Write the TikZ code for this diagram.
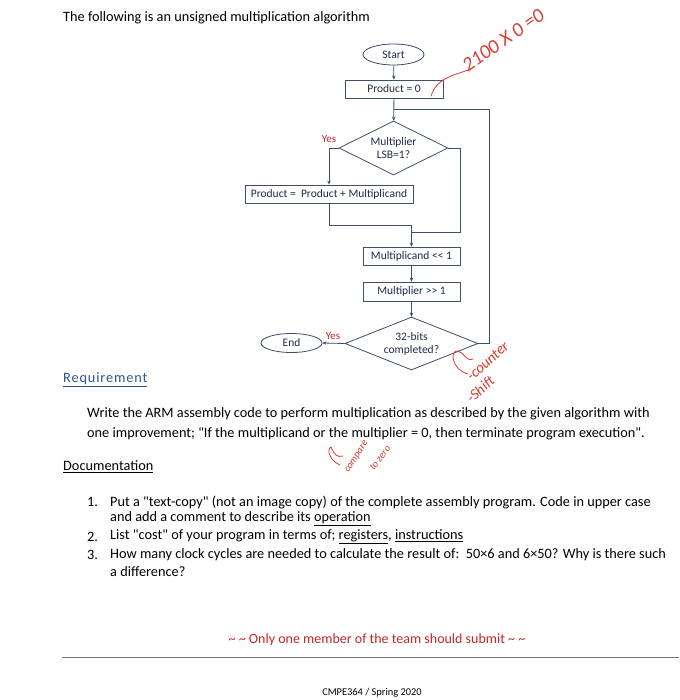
\documentclass[tikz,border=0pt]{standalone}
\usepackage{fontspec}
\setmainfont{Carlito}[Ligatures=TeXOff]
\usetikzlibrary{shapes.geometric,arrows.meta}
\definecolor{flow}{RGB}{62,78,108}
\definecolor{navy}{RGB}{32,42,72}
\definecolor{yesred}{RGB}{192,40,40}
\definecolor{hand}{RGB}{215,60,50}
\definecolor{reqblue}{RGB}{47,84,150}
\definecolor{rulegray}{RGB}{120,120,120}
\tikzset{
  flowtxt/.style={font=\fontsize{11.5}{13}\selectfont, text=navy},
  box/.style={draw=flow, line width=0.8pt, rectangle, inner sep=1pt, flowtxt},
  term/.style={draw=flow, line width=0.8pt, ellipse, inner sep=0pt, flowtxt},
  decision/.style={draw=flow, line width=0.8pt, diamond, inner sep=0pt, align=center, flowtxt},
  conn/.style={draw=flow, line width=0.8pt},
  arr/.style={conn, -{Stealth[length=4pt,width=3.5pt]}},
  yes/.style={text=yesred, font=\fontsize{11}{12}\selectfont, inner sep=0pt},
  body/.style={anchor=west, inner sep=0pt, font=\fontsize{14.3}{17}\selectfont},
  handtxt/.style={text=hand, inner sep=0pt},
  handline/.style={draw=hand, line width=0.8pt, line cap=round}
}
\begin{document}
\begin{tikzpicture}[x=1pt,y=-1pt]
\useasboundingbox[fill=white] (0,0) rectangle (679,700);

% title
\node[body] (title) at (63,18) {The following is an unsigned multiplication algorithm};

% flowchart
\node[term, minimum width=61pt, minimum height=21pt] (start) at (393.5,54.5) {Start};
\node[box, minimum width=98pt, minimum height=18pt] (p0) at (394,89) {Product = 0};
\node[decision, aspect=2, minimum width=109pt, minimum height=54pt] (d1) at (393.5,148) {Multiplier\\LSB=1?};
\node[box, minimum width=168pt, minimum height=18pt] (pp) at (329,194) {Product =\ \ Product + Multiplicand};
\node[box, minimum width=97pt, minimum height=18pt] (m1) at (411.5,256) {Multiplicand <\kern0pt< 1};
\node[box, minimum width=97pt, minimum height=19pt] (m2) at (411.5,291.5) {Multiplier >\kern0pt> 1};
\node[decision, aspect=2.5, minimum width=133pt, minimum height=53pt] (d2) at (411.5,343.5) {32-bits\\completed?};
\node[term, minimum width=61pt, minimum height=19pt] (end) at (291.5,343) {End};

\coordinate (j1) at (393.5,109);
\coordinate (j2) at (411.5,225);
\coordinate (j3) at (411.5,232);
\coordinate (lp) at (489,343.5);
\coordinate (rb) at (460,148);

\draw[arr] (start) -- (p0);
\draw[arr] (p0) -- (d1);
\draw[conn] (d2.east) -- (lp) |- (j1);
\draw[arr] (d1.west) -| (pp.north);
\draw[conn] (d1.east) -- (rb) |- (j3);
\draw[arr] (pp.south) |- (j2) -- (m1.north);
\draw[arr] (m1) -- (m2);
\draw[arr] (m2) -- (d2);
\draw[arr] (d2.west) -- (end.east);
\node[yes] (yes1) at (329,139) {Yes};
\node[yes] (yes2) at (333,336) {Yes};

% requirement
\node[body, text=reqblue] (req) at (63,380) {\addfontfeatures{LetterSpace=6}\underline{Requirement}};
\node[body] (r1) at (87,414) {Write the ARM assembly code to perform multiplication as described by the given algorithm with};
\node[body] (r2) at (87,434) {one improvement; "If the multiplicand or the multiplier = 0, then terminate program execution".};

% documentation
\node[body] (doc) at (63,467) {\underline{Documentation}};
\node[body] (n1) at (87,502) {1.};
\node[body] (l1a) at (110,502) {Put a "text-copy" (not an image copy) of the complete assembly program. Code in upper case};
\node[body] (l1b) at (110,519) {and add a comment to describe its \underline{operation}};
\node[body] (n2) at (87,537) {2.};
\node[body] (l2) at (110,537) {List "cost" of your program in terms of; \underline{registers}, \underline{instructions}};
\node[body] (n3) at (87,555) {3.};
\node[body] (l3a) at (110,555) {How many clock cycles are needed to calculate the result of:\ \ 50×6 and 6×50? Why is there such};
\node[body] (l3b) at (110,572) {a difference?};

\node[body, anchor=center, text=yesred, font=\fontsize{14}{17}\selectfont] (only) at (377,640) {\textasciitilde\ \textasciitilde\ Only one member of the team should submit \textasciitilde\ \textasciitilde};

\coordinate (ruleA) at (62,657);
\coordinate (ruleB) at (679,657);
\draw[rulegray, line width=1pt] (ruleA) -- (ruleB);
\node[inner sep=0pt, font=\fontsize{10.4}{12}\selectfont] (foot) at (372,693) {CMPE364 / Spring 2020};

% handwritten annotations
\coordinate (h1a) at (431,96);
\coordinate (h1b) at (468,70);
\draw[handline] (h1a) .. controls (437,78) and (452,76) .. (h1b);
\node[handtxt, rotate=35, anchor=south west, font=\fontsize{20}{20}\selectfont\itshape] (note1) at (468,73) {2100 X 0 =0};

\coordinate (h2a) at (468,374);
\draw[handline] (h2a) .. controls (452,370) and (449,350) .. (458,351) .. controls (465,353) and (466,362) .. (473,359);
\node[handtxt, rotate=42, anchor=south west, font=\fontsize{15}{15}\selectfont\itshape] (note2) at (472,382) {-counter};
\node[handtxt, rotate=42, anchor=south west, font=\fontsize{15}{15}\selectfont\itshape] (note3) at (472,404) {-Shift};

\coordinate (h3a) at (340,465);
\draw[handline] (h3a) .. controls (330,461) and (326,449) .. (331,447) .. controls (334,454) and (337,458) .. (343,456);
\node[handtxt, rotate=57, anchor=south west, font=\fontsize{10}{10}\selectfont\itshape] (note4) at (350,474) {compare};
\node[handtxt, rotate=52, anchor=south west, font=\fontsize{10}{10}\selectfont\itshape] (note5) at (374,471) {to zero};
\end{tikzpicture}
\end{document}
